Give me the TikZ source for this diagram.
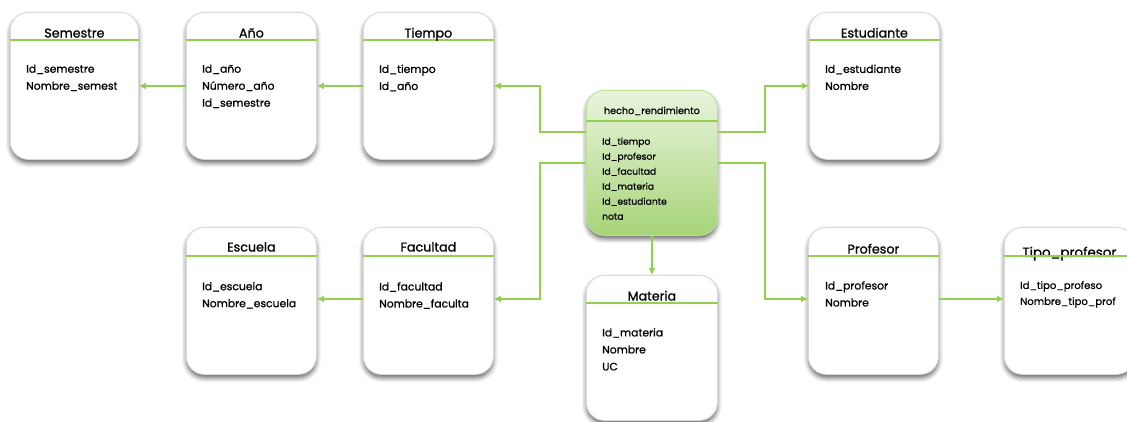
\documentclass[tikz,border=0pt]{standalone}
\usepackage{fontspec}
\setmainfont{Poppins}[FakeBold=0.9]
\usetikzlibrary{shadows.blur,arrows.meta,calc}
\definecolor{lgreen}{HTML}{92D050}
\definecolor{factop}{HTML}{EAF4DD}
\definecolor{factbot}{HTML}{A6D478}
\tikzset{
  ent/.style={rounded corners=18pt, fill=white, draw=black!15, line width=0.8pt,
    blur shadow={shadow xshift=0pt, shadow yshift=-3.5pt, shadow blur radius=4.5pt, shadow opacity=60},
    minimum width=130pt, minimum height=147pt, anchor=north west, inner sep=0pt},
  fact/.style={ent, top color=factop, bottom color=factbot, draw=lgreen!60},
  ttl/.style={font=\fontsize{12.7}{14}\selectfont, anchor=base, inner sep=0pt},
  fld/.style={font=\fontsize{10.8}{17}\selectfont, align=left, anchor=north west, inner sep=0pt},
  sfld/.style={font=\fontsize{9.2}{15}\selectfont, align=left, anchor=north west, inner sep=0pt},
  rule/.style={draw=lgreen, line width=1.3pt},
  link/.style={draw=lgreen, line width=1.8pt, -{Latex[length=7pt,width=7pt]}}
}
\begin{document}
\begin{tikzpicture}[x=1pt,y=-1pt]
\useasboundingbox (0,0) rectangle (1127,421);

% entity boxes
\node[ent, minimum width=128pt] (sem)  at (10,12)  {};
\node[ent] (anio) at (186,12) {};
\node[ent] (tiem) at (363,12) {};
\node[ent] (est)  at (809,12) {};
\node[fact, minimum width=131pt, minimum height=145pt] (hecho) at (586,90) {};
\node[ent] (esc)  at (186,227) {};
\node[ent] (fac)  at (363,227) {};
\node[ent, minimum width=131pt, minimum height=145pt] (mat)  at (586,275) {};
\node[ent] (prof) at (808,227) {};
\node[ent] (tipo) at (1004,227) {};

% header rules
\draw[rule] (sem.west |- 0,40) -- (sem.east |- 0,40);
\draw[rule] (anio.west |- 0,40) -- (anio.east |- 0,40);
\draw[rule] (tiem.west |- 0,40) -- (tiem.east |- 0,40);
\draw[rule] (est.west |- 0,40) -- (est.east |- 0,40);
\draw[rule] (hecho.west |- 0,121) -- (hecho.east |- 0,121);
\draw[rule] (esc.west |- 0,256) -- (esc.east |- 0,256);
\draw[rule] (fac.west |- 0,256) -- (fac.east |- 0,256);
\draw[rule] (mat.west |- 0,303) -- (mat.east |- 0,303);
\draw[rule] (prof.west |- 0,256) -- (prof.east |- 0,256);

% titles
\node[ttl] (sem-t)  at (sem.center |- 0,37.5)  {Semestre};
\node[ttl] (anio-t) at (anio.center |- 0,37.5) {Año};
\node[ttl] (tiem-t) at (tiem.center |- 0,37.5) {Tiempo};
\node[ttl] (est-t)  at (est.center |- 0,37.5)  {Estudiante};
\node[ttl, font=\fontsize{9.6}{11}\selectfont] (hecho-t) at (hecho.center |- 0,114) {hecho\_rendimiento};
\node[ttl] (esc-t)  at (esc.center |- 0,251.5)  {Escuela};
\node[ttl] (fac-t)  at (fac.center |- 0,251.5)  {Facultad};
\node[ttl] (mat-t)  at (mat.center |- 0,300.5)  {Materia};
\node[ttl] (prof-t) at (prof.center |- 0,253.5) {Profesor};
\node[ttl, font=\fontsize{13.4}{15}\selectfont] (tipo-t) at (tipo.center |- 0,257) {Tipo\_profesor};
\draw[rule] (tipo.west |- 0,256) -- (tipo.east |- 0,256);

% attribute lists
\node[fld] (sem-f)  at (26,64.5)  {Id\_semestre\\Nombre\_semest};
\node[fld] (anio-f) at (202,64.5) {Id\_año\\Número\_año\\Id\_semestre};
\node[fld] (tiem-f) at (379,64.5) {Id\_tiempo\\Id\_año};
\node[fld] (est-f)  at (825,64.5) {Id\_estudiante\\Nombre};
\node[sfld] (hecho-f) at (602,137.5) {Id\_tiempo\\Id\_profesor\\Id\_facultad\\Id\_materia\\Id\_estudiante\\nota};
\node[fld] (esc-f)  at (202,282) {Id\_escuela\\Nombre\_escuela};
\node[fld] (fac-f)  at (379,282) {Id\_facultad\\Nombre\_faculta};
\node[fld] (mat-f)  at (602,328) {Id\_materia\\Nombre\\UC};
\node[fld] (prof-f) at (825,281) {Id\_profesor\\Nombre};
\node[sfld, font=\fontsize{10.1}{16}\selectfont] (tipo-f) at (1020,281) {Id\_tipo\_profeso\\Nombre\_tipo\_prof};

% connectors
\draw[link] (anio.west) -- (sem.east);
\draw[link] (tiem.west) -- (anio.east);
\draw[link] ([yshift=2pt]fac.west) -- ([yshift=2pt]esc.east);
\draw[link] ([yshift=2pt]prof.east) -- ([yshift=2pt]tipo.west);
\draw[link] ([yshift=31pt]hecho.west) -- ++(-46,0) |- (tiem.east);
\draw[link] (hecho.west) -- ++(-46,0) |- ([yshift=2pt]fac.east);
\draw[link] ([yshift=31pt]hecho.east) -- ++(47,0) |- (est.west);
\draw[link] (hecho.east) -- ++(47,0) |- ([yshift=2pt]prof.west);
\draw[link] (hecho.south) -- (mat.north);
\end{tikzpicture}
\end{document}
